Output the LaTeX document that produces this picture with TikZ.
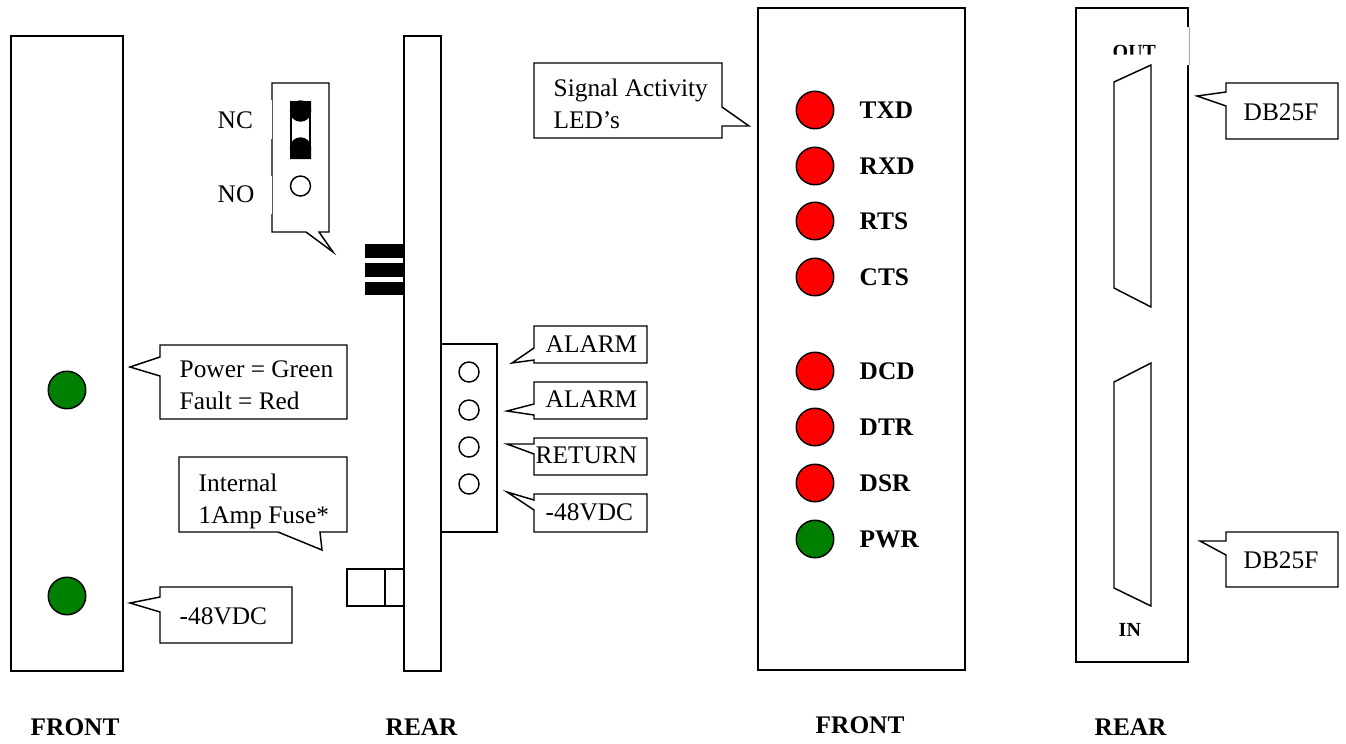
\documentclass[tikz,border=0pt]{standalone}
\usepackage{fontspec}
\setmainfont{Liberation Serif}
\begin{document}
\begin{tikzpicture}
[x=0.75pt,y=-0.75pt,line width=1.1pt,
every node/.style={font=\fontsize{19}{23.5}\selectfont,inner sep=0pt,anchor=base west,align=left},
panel/.style={draw,fill=white},
callout/.style={draw,fill=white,line join=miter},
bar/.style={fill=black},
pin/.style={circle,draw,fill=white,minimum size=20pt*0.75,anchor=center},
led/.style={circle,draw,minimum size=37.5pt*0.75,anchor=center},
tag/.style={font=\fontsize{19}{23}\bfseries\selectfont},
port/.style={font=\fontsize{15}{18}\bfseries\selectfont}]
\useasboundingbox (0,0) rectangle (1346,743);
% first unit
\draw[panel] (11,36) rectangle (123,671);
\node[led,fill=green!50!black] (power) at (67,390) {};
\node[led,fill=green!50!black] (feed) at (67,596) {};
\draw[callout] (160,345) -- (347,345) -- (347,419) -- (160,419) -- (160,376) -- (130,367) -- (160,357) -- cycle;
\node (powertext) at (179,409) {Power = Green\\Fault = Red};
\draw[callout] (160,587) -- (292,587) -- (292,643) -- (160,643) -- (160,612) -- (130,603) -- (160,597) -- cycle;
\node (feedtext) at (179,624) {-48VDC};
\node[tag] (front1) at (30,735) {FRONT};
% rear of first unit
\draw[panel] (404,36) rectangle (441,671);
\draw[bar] (366,245) rectangle (403,257);
\draw[bar] (366,264) rectangle (403,276);
\draw[bar] (366,283) rectangle (403,294);
\draw[callout] (272,83) -- (329,83) -- (329,232) -- (319,232) -- (333,252) -- (306,232) -- (272,232) -- cycle;
\draw[white,line width=0.5pt] (271.4,100) -- (271.4,139) (271.4,176) -- (271.4,214);
\node (nc) at (217,128) {NC};
\node (no) at (217,202) {NO};
\draw[fill=white,line width=1.6pt] (291,102) rectangle (310,158);
\fill (290,101) rectangle (311,111) (290,148) rectangle (311,159);
\node[pin,fill=black] (jumpera) at (300.5,111) {};
\node[pin,fill=black] (jumperb) at (300.5,148) {};
\node[pin] (jumperc) at (300.5,186) {};
\draw[callout] (179,457) -- (347,457) -- (347,532) -- (320,532) -- (322,550) -- (278,532) -- (179,532) -- cycle;
\node (fusetext) at (198,523) {Internal\\1Amp Fuse*};
\draw[panel] (347,569) rectangle (404,606);
\draw (385,569) -- (385,606);
\draw[panel] (441,344) rectangle (497,532);
\foreach \name/\y in {pina/372,pinb/410,pinc/447,pind/484}
  \node[pin] (\name) at (469,\y) {};
\draw[callout] (534,326) -- (647,326) -- (647,363) -- (534,363) -- (534,360) -- (512,363) -- (534,348) -- cycle;
\node (alarma) at (545,352) {ALARM};
\draw[callout] (534,382) -- (647,382) -- (647,419) -- (534,419) -- (534,415) -- (507,411) -- (534,404) -- cycle;
\node (alarmb) at (545,407) {ALARM};
\draw[callout] (534,438) -- (647,438) -- (647,475) -- (534,475) -- (534,454) -- (507,444) -- (534,444) -- cycle;
\node (return) at (535,463) {RETURN};
\draw[callout] (534,494) -- (647,494) -- (647,532) -- (534,532) -- (534,510) -- (507,492) -- (534,500) -- cycle;
\node (vdc) at (545,520) {-48VDC};
\node[tag] (rear1) at (385,735) {REAR};
% second unit
\draw[panel] (758,8) rectangle (965,670);
\foreach \name/\y/\c in {TXD/110/red,RXD/166/red,RTS/221/red,CTS/277/red,DCD/371/red,DTR/427/red,DSR/483/red,PWR/539/green!50!black}{
  \node[led,fill=\c] (\name) at (815,\y) {};
  \node[tag] (\name text) at (859,\y+8.5) {\name};
}
\draw[callout] (534,63) -- (722,63) -- (722,107) -- (749,126) -- (722,126) -- (722,138) -- (534,138) -- cycle;
\node (signal) at (553,128) {Signal Activity\\LED’s};
\node[tag] (front2) at (815,733) {FRONT};
% rear of second unit
\draw[panel] (1076,8) rectangle (1188,662);
\node[port] (out) at (1112,58) {OUT};
\fill[white] (1160,27) rectangle (1189,65) (1105,54.5) rectangle (1189,65);
\draw[black!35,line width=0.4pt] (1189,27) -- (1189,65);
\node[port] (in) at (1118,636) {IN};
\draw[panel] (1114,82) -- (1151,65) -- (1151,307) -- (1114,288) -- cycle;
\draw[panel] (1114,382) -- (1151,363) -- (1151,606) -- (1114,588) -- cycle;
\draw[callout] (1226,83) -- (1338,83) -- (1338,139) -- (1226,139) -- (1226,106) -- (1197,96) -- (1226,92) -- cycle;
\node (dba) at (1243,120) {DB25F};
\draw[callout] (1226,532) -- (1338,532) -- (1338,587) -- (1226,587) -- (1226,555) -- (1200,541) -- (1226,541) -- cycle;
\node (dbb) at (1243,568) {DB25F};
\node[tag] (rear2) at (1094,735) {REAR};
\end{tikzpicture}
\end{document}
